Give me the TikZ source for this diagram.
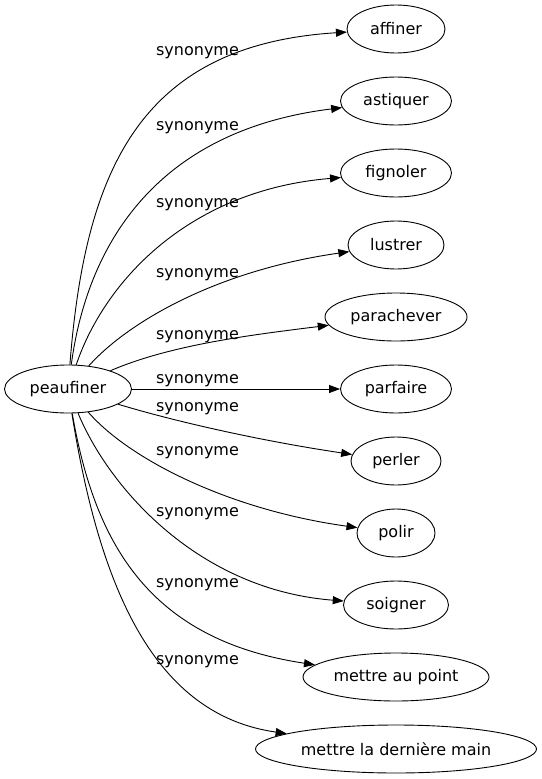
\documentclass[tikz,border=0pt]{standalone}
\usepackage{fontspec}
\setmainfont{DejaVu Sans}
\usetikzlibrary{shapes.geometric, arrows.meta, positioning}

\begin{document}
\begin{tikzpicture}[
    x=1pt, y=-1pt,
    >={Triangle[length=11pt, width=8pt]},
    node distance=23.1pt,
    wordnode/.style={draw, ellipse, line width=0.9pt, inner sep=0pt,
        minimum height=48pt, font=\fontsize{16}{19}\selectfont},
    synlabel/.style={font=\fontsize{16}{19}\selectfont, inner sep=0pt},
    synedge/.style={->, line width=0.9pt}
]
\useasboundingbox (0,0) rectangle (541,779);

\node[wordnode, minimum width=127pt] (peaufiner) at (68,389) {peaufiner};

\node[wordnode, minimum width=98pt] (affiner) at (396,29) {affiner};
\node[wordnode, minimum width=111pt, below=of affiner]    (astiquer)    {astiquer};
\node[wordnode, minimum width=111pt, below=of astiquer]   (fignoler)    {fignoler};
\node[wordnode, minimum width=96pt,  below=of fignoler]   (lustrer)     {lustrer};
\node[wordnode, minimum width=142pt, below=of lustrer]    (parachever)  {parachever};
\node[wordnode, minimum width=111pt, below=of parachever] (parfaire)    {parfaire};
\node[wordnode, minimum width=90pt,  below=of parfaire]   (perler)      {perler};
\node[wordnode, minimum width=78pt,  below=of perler]     (polir)       {polir};
\node[wordnode, minimum width=105pt, below=of polir]      (soigner)     {soigner};
\node[wordnode, minimum width=186pt, below=of soigner]    (mettrepoint) {mettre au point};
\node[wordnode, minimum width=281pt, below=of mettrepoint] (mettremain) {mettre la dernière main};

\node[synlabel] (syn1)  at (197.5,52.4)  {synonyme};
\node[synlabel] (syn2)  at (197.5,128)   {synonyme};
\node[synlabel] (syn3)  at (197.5,204.4) {synonyme};
\node[synlabel] (syn4)  at (197.5,274.4) {synonyme};
\node[synlabel] (syn5)  at (197.5,336.4) {synonyme};
\node[synlabel] (syn6)  at (197.5,380.4) {synonyme};
\node[synlabel] (syn7)  at (197.5,408.9) {synonyme};
\node[synlabel] (syn8)  at (197.5,453)   {synonyme};
\node[synlabel] (syn9)  at (197.5,514)   {synonyme};
\node[synlabel] (syn10) at (197.5,585)   {synonyme};
\node[synlabel] (syn11) at (197.5,662)   {synonyme};

\draw[synedge] (peaufiner) .. controls (85,170) and (140,45) .. (affiner);
\draw[synedge] (peaufiner) .. controls (88,240) and (160,130) .. (astiquer);
\draw[synedge] (peaufiner) .. controls (105,280) and (190,190) .. (fignoler);
\draw[synedge] (peaufiner) .. controls (130,320) and (220,270) .. (lustrer);
\draw[synedge] (peaufiner) .. controls (170,345) and (250,335) .. (parachever);
\draw[synedge] (peaufiner) -- (parfaire);
\draw[synedge] (peaufiner) .. controls (170,420) and (255,440) .. (perler);
\draw[synedge] (peaufiner) .. controls (130,460) and (230,510) .. (polir);
\draw[synedge] (peaufiner) .. controls (110,490) and (200,590) .. (soigner);
\draw[synedge] (peaufiner) .. controls (95,545) and (150,640) .. (mettrepoint);
\draw[synedge] (peaufiner) .. controls (100,590) and (155,715) .. (mettremain);
\end{tikzpicture}
\end{document}
